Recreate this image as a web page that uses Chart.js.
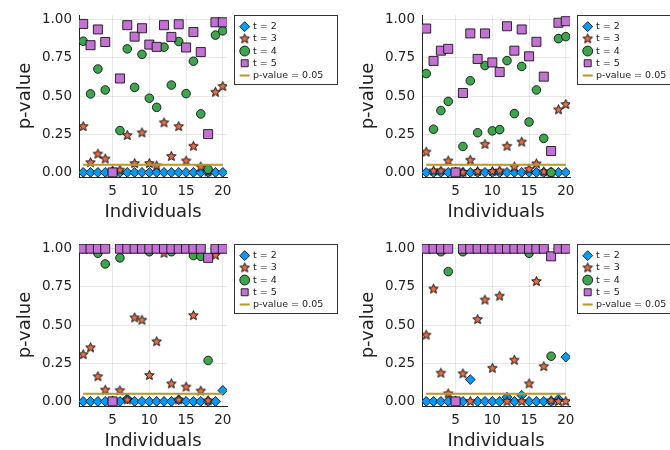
<!DOCTYPE html>
<html>
<head>
<meta charset="utf-8">
<script src="https://cdn.jsdelivr.net/npm/chart.js@4.4.0/dist/chart.umd.min.js"></script>
<style>
  html, body { margin: 0; padding: 0; background: #fff; overflow: hidden; width: 670px; height: 450px; }
  canvas { position: absolute; }
</style>
</head>
<body>
<canvas id="c1" width="345" height="229" style="left:0;top:0"></canvas>
<canvas id="c2" width="345" height="229" style="left:343px;top:0"></canvas>
<canvas id="c3" width="345" height="229" style="left:0;top:229px"></canvas>
<canvas id="c4" width="345" height="229" style="left:343px;top:229px"></canvas>
<script>
const individuals = [1, 2, 3, 4, 5, 6, 7, 8, 9, 10, 11, 12, 13, 14, 15, 16, 17, 18, 19, 20];
const xTicks = [5, 10, 15, 20];
const yTicks = [0, 0.25, 0.5, 0.75, 1];
const alpha = 0.05;
const seriesLabels = ["t = 2", "t = 3", "t = 4", "t = 5"];
const lineLabel = "p-value = 0.05";

// top left
const tlT2 = [0, 0, 0, 0, 0, 0, 0, 0, 0, 0, 0, 0, 0, 0, 0, 0, 0, 0, 0, 0];
const tlT3 = [0.30, 0.064, 0.12, 0.088, 0.01, 0.015, 0.242, 0.058, 0.259, 0.058, 0.043, 0.325, 0.105, 0.30, 0.075, 0.171, 0.036, 0.004, 0.525, 0.563];
const tlT4 = [0.859, 0.514, 0.677, 0.54, 0.0, 0.274, 0.809, 0.557, 0.773, 0.486, 0.426, 0.82, 0.572, 0.857, 0.516, 0.728, 0.383, 0.02, 0.899, 0.927];
const tlT5 = [0.972, 0.833, 0.936, 0.854, 0.0, 0.615, 0.964, 0.889, 0.944, 0.837, 0.822, 0.964, 0.887, 0.97, 0.818, 0.919, 0.788, 0.251, 0.983, 0.983];

// top right
const trT2 = [0, 0, 0, 0, 0, 0, 0, 0, 0, 0, 0, 0, 0, 0, 0, 0, 0, 0, 0, 0];
const trT3 = [0.133, 0.01, 0.01, 0.075, 0.0, 0.0, 0.08, 0.006, 0.184, 0.006, 0.01, 0.171, 0.036, 0.199, 0.02, 0.056, 0.004, 0.0, 0.41, 0.445];
const trT4 = [0.647, 0.283, 0.405, 0.465, 0.0, 0.17, 0.6, 0.26, 0.7, 0.272, 0.28, 0.732, 0.385, 0.694, 0.33, 0.54, 0.223, 0.0, 0.876, 0.889];
const trT5 = [0.942, 0.73, 0.797, 0.809, 0.0, 0.52, 0.91, 0.743, 0.91, 0.72, 0.657, 0.957, 0.797, 0.936, 0.76, 0.855, 0.627, 0.14, 0.98, 0.99];

// bottom left
const blT2 = [0, 0, 0, 0, 0, 0, 0.017, 0, 0, 0, 0, 0, 0, 0.01, 0, 0, 0, 0, 0, 0.072];
const blT3 = [0.306, 0.351, 0.162, 0.074, 0.0, 0.07, 0.01, 0.547, 0.532, 0.17, 0.391, 0.97, 0.115, 0.01, 0.094, 0.562, 0.068, 0.004, 0.957, 1.0];
const blT4 = [1, 1, 0.97, 0.9, 0.0, 0.94, 1, 1, 1, 0.98, 1, 1, 0.98, 1, 1, 0.955, 0.95, 0.268, 1, 1];
const blT5 = [1, 1, 1, 1, 0, 1, 1, 1, 1, 1, 1, 1, 1, 1, 1, 1, 1, 0.94, 1, 1];

// bottom right
const brT2 = [0, 0, 0, 0, 0, 0, 0.143, 0, 0, 0, 0, 0.028, 0, 0.04, 0, 0, 0, 0, 0.015, 0.29];
const brT3 = [0.434, 0.736, 0.185, 0.05, 0.0, 0.181, 0.0, 0.536, 0.664, 0.217, 0.689, 0.0, 0.27, 0.0, 0.115, 0.785, 0.228, 0.004, 0.0, 0.0];
const brT4 = [1, 1, 0.98, 0.85, 0, 0.98, 1, 1, 1, 1, 1, 1, 1, 1, 0.97, 1, 1, 0.296, 1, 1];
const brT5 = [1, 1, 1, 1, 0, 1, 1, 1, 1, 1, 1, 1, 1, 1, 1, 1, 1, 0.95, 1, 1];

const BLUE = "#009AFA", ORANGE = "#E36F47", GREEN = "#3EA44E", PURPLE = "#C371D2", GOLD = "#B8962A";
const TEXT = "#222";
const FONT = "'DejaVu Sans', sans-serif";

// filled five point star, used as pointStyle
function makeStar(r) {
  const size = Math.ceil(r * 2 + 3);
  const c = document.createElement("canvas");
  c.width = c.height = size;
  const ctx = c.getContext("2d");
  ctx.beginPath();
  for (let k = 0; k < 10; k++) {
    const rad = k % 2 === 0 ? r : r * 0.45;
    const a = -Math.PI / 2 + k * Math.PI / 5;
    ctx.lineTo(size / 2 + rad * Math.cos(a), size / 2 + rad * Math.sin(a));
  }
  ctx.closePath();
  ctx.fillStyle = ORANGE;
  ctx.fill();
  ctx.lineWidth = 0.9;
  ctx.strokeStyle = "#000";
  ctx.stroke();
  return c;
}
const star = makeStar(5);

// legend sits outside the plot, top right, with a frame
const legendBox = {
  id: "legendBox",
  afterLayout(chart) {
    const lg = chart.legend;
    const w = lg.width, h = lg.height;
    lg.left = chart.chartArea.right + 11.5;
    lg.right = lg.left + w;
    lg.top = 19.2;
    lg.bottom = lg.top + h;
  },
  afterDraw(chart) {
    const ctx = chart.ctx;
    ctx.save();
    ctx.strokeStyle = "#333";
    ctx.lineWidth = 1;
    ctx.strokeRect(Math.round(chart.chartArea.right) + 7.5, 15.5, 103, 69);
    ctx.restore();
  }
};

function pts(arr) {
  return individuals.map((x, i) => ({ x: x, y: arr[i] }));
}

function drawPanel(id, t2, t3, t4, t5) {
  const ctx = document.getElementById(id).getContext("2d");
  new Chart(ctx, {
    type: "scatter",
    data: {
      datasets: [
        { label: seriesLabels[0], data: pts(t2), pointStyle: "rectRot", pointRadius: 4.9,
          backgroundColor: BLUE, borderColor: "#000", borderWidth: 0.8, order: 4 },
        { label: seriesLabels[1], data: pts(t3), pointStyle: star, pointRadius: 5,
          backgroundColor: ORANGE, borderColor: "#000", borderWidth: 0.8, order: 3 },
        { label: seriesLabels[2], data: pts(t4), pointStyle: "circle", pointRadius: 4.3,
          backgroundColor: GREEN, borderColor: "#000", borderWidth: 0.8, order: 2 },
        { label: seriesLabels[3], data: pts(t5), pointStyle: "rect", pointRadius: 6.4,
          backgroundColor: PURPLE, borderColor: "#000", borderWidth: 0.8, order: 1 },
        { label: lineLabel, data: [{ x: individuals[0], y: alpha }, { x: individuals[individuals.length - 1], y: alpha }],
          showLine: true, borderColor: GOLD, borderWidth: 2, pointRadius: 0, pointStyle: "line",
          pointBorderColor: GOLD, pointBorderWidth: 2, backgroundColor: GOLD, order: 0 }
      ]
    },
    options: {
      responsive: false,
      animation: false,
      layout: { padding: { top: 12, left: 0, right: 118, bottom: 0 } },
      plugins: {
        tooltip: { enabled: false },
        legend: {
          position: "chartArea",
          align: "start",
          labels: {
            usePointStyle: true,
            boxWidth: 7,
            boxHeight: 7,
            padding: 2.7,
            color: TEXT,
            font: { family: FONT, size: 9.5 },
            sort: (a, b) => a.datasetIndex - b.datasetIndex
          }
        }
      },
      scales: {
        x: {
          type: "linear",
          min: 0.43,
          max: 20.57,
          afterBuildTicks: (scale) => { scale.ticks = xTicks.map(v => ({ value: v })); },
          afterFit: (scale) => { scale.height = 52; },
          grid: { color: "rgba(0,0,0,0.09)", drawTicks: false },
          border: { display: true, color: TEXT, width: 1 },
          ticks: { color: TEXT, font: { family: FONT, size: 13.5 }, padding: 6, maxRotation: 0 },
          title: { display: true, text: "Individuals", color: TEXT,
                   font: { family: FONT, size: 18 }, padding: { top: 0, bottom: 6 } }
        },
        y: {
          min: -0.03,
          max: 1.03,
          afterBuildTicks: (scale) => { scale.ticks = yTicks.map(v => ({ value: v })); },
          afterFit: (scale) => { scale.width = 79; },
          grid: { color: "rgba(0,0,0,0.09)", drawTicks: false },
          border: { display: true, color: TEXT, width: 1 },
          ticks: { color: TEXT, font: { family: FONT, size: 13.5 }, padding: 7,
                   callback: (v) => v.toFixed(2) },
          title: { display: true, text: "p-value", color: TEXT,
                   font: { family: FONT, size: 18 }, padding: { top: 15, bottom: 0 } }
        }
      }
    },
    plugins: [legendBox]
  });
}

drawPanel("c1", tlT2, tlT3, tlT4, tlT5);
drawPanel("c2", trT2, trT3, trT4, trT5);
drawPanel("c3", blT2, blT3, blT4, blT5);
drawPanel("c4", brT2, brT3, brT4, brT5);
</script>
</body>
</html>
